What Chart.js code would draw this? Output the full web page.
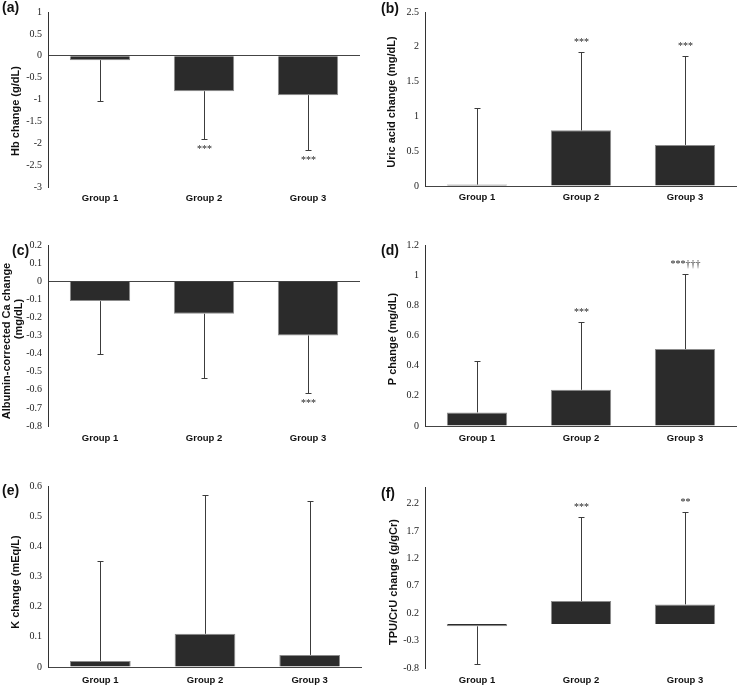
<!DOCTYPE html>
<html>
<head>
<meta charset="utf-8">
<script src="https://cdn.jsdelivr.net/npm/chart.js@4.4.0/dist/chart.umd.min.js"></script>
<style>
  body { margin: 0; background: #fff; }
  #wrap { position: relative; width: 738px; height: 686px; }
  #wrap canvas { position: absolute; }
</style>
</head>
<body>
<div id="wrap">
  <canvas id="pa"></canvas>
  <canvas id="pb"></canvas>
  <canvas id="pc"></canvas>
  <canvas id="pd"></canvas>
  <canvas id="pe"></canvas>
  <canvas id="pf"></canvas>
</div>
<script>
// categories
const groups = ['Group 1', 'Group 2', 'Group 3'];

// (a) Hb
const hbMean = [-0.1, -0.81, -0.9];
const hbSd = [0.93, 1.09, 1.25];
const hbMarks = ['', '***', '***'];
const hbTicks = [1, 0.5, 0, -0.5, -1, -1.5, -2, -2.5, -3];

// (b) uric acid
const uaMean = [0.02, 0.8, 0.59];
const uaSd = [1.1, 1.12, 1.28];
const uaMarks = ['', '***', '***'];
const uaTicks = [0, 0.5, 1, 1.5, 2, 2.5];

// (c) albumin-corrected Ca
const caMean = [-0.11, -0.18, -0.3];
const caSd = [0.29, 0.355, 0.32];
const caMarks = ['', '', '***'];
const caTicks = [0.2, 0.1, 0, -0.1, -0.2, -0.3, -0.4, -0.5, -0.6, -0.7, -0.8];

// (d) P
const pMean = [0.09, 0.24, 0.51];
const pSd = [0.34, 0.45, 0.5];
const pMarks = ['', '***', '***†††'];
const pTicks = [0, 0.2, 0.4, 0.6, 0.8, 1, 1.2];

// (e) K
const kMean = [0.02, 0.11, 0.04];
const kSd = [0.33, 0.46, 0.51];
const kMarks = ['', '', ''];
const kTicks = [0, 0.1, 0.2, 0.3, 0.4, 0.5, 0.6];

// (f) TPU/CrU
const tpuMean = [-0.04, 0.42, 0.36];
const tpuSd = [0.68, 1.53, 1.69];
const tpuMarks = ['', '***', '**'];
const tpuTicks = [-0.8, -0.3, 0.2, 0.7, 1.2, 1.7, 2.2];

const SERIF = '"Liberation Serif", "Times New Roman", serif';
const SANS = '"Liberation Sans", Arial, sans-serif';

function panel(id, box, area, mean, sd, marks, ticks, yMin, yMax, label, titles) {
  const cv = document.getElementById(id);
  cv.width = box.r - box.l;
  cv.height = box.b - box.t;
  cv.style.left = box.l + 'px';
  cv.style.top = box.t + 'px';

  // error bars, significance marks, panel letter, axis title
  const extras = {
    id: 'extras',
    afterDatasetsDraw(chart) {
      const ctx = chart.ctx;
      const y = chart.scales.y;
      chart.getDatasetMeta(0).data.forEach((bar, i) => {
        const end = mean[i] < 0 ? mean[i] - sd[i] : mean[i] + sd[i];
        const x = Math.round(bar.x) + 0.5;
        const y0 = y.getPixelForValue(mean[i]);
        const y1 = Math.round(y.getPixelForValue(end)) + 0.5;
        ctx.save();
        ctx.strokeStyle = '#3c3c3c';
        ctx.lineWidth = 1;
        ctx.beginPath();
        ctx.moveTo(x, y0);
        ctx.lineTo(x, y1);
        ctx.moveTo(x - 3, y1);
        ctx.lineTo(x + 3, y1);
        ctx.stroke();
        if (marks[i]) {
          ctx.fillStyle = '#222';
          ctx.font = '10px ' + SERIF;
          ctx.textAlign = 'center';
          ctx.textBaseline = 'middle';
          ctx.fillText(marks[i], x, end < 0 ? y1 + 10 : y1 - 10);
        }
        ctx.restore();
      });
    },
    afterDraw(chart) {
      const ctx = chart.ctx;
      ctx.save();
      ctx.fillStyle = '#111';
      ctx.textBaseline = 'middle';
      ctx.textAlign = 'left';
      ctx.font = 'bold 14px ' + SANS;
      ctx.fillText(label.text, label.x - box.l, label.y - box.t);
      ctx.font = 'bold 11px ' + SANS;
      ctx.textAlign = 'center';
      titles.forEach(t => {
        ctx.save();
        ctx.translate(t.x - box.l, t.y - box.t);
        ctx.rotate(-Math.PI / 2);
        ctx.fillText(t.text, 0, 0);
        ctx.restore();
      });
      ctx.restore();
    }
  };

  return new Chart(cv, {
    type: 'bar',
    data: {
      labels: groups,
      datasets: [{
        data: mean,
        backgroundColor: '#2b2b2b',
        borderColor: '#8c8c8c',
        borderWidth: 1,
        barPercentage: 0.58,
        categoryPercentage: 1
      }]
    },
    options: {
      responsive: false,
      animation: false,
      layout: {
        padding: { top: area.t - box.t, right: box.r - area.r, left: 0, bottom: 0 }
      },
      plugins: { legend: { display: false }, tooltip: { enabled: false } },
      scales: {
        x: {
          grid: { display: false, drawTicks: false },
          border: { display: false },
          ticks: {
            color: '#111',
            padding: area.lp,
            font: { family: SANS, size: 9.5, weight: 'bold' },
            maxRotation: 0
          },
          afterFit(s) { s.height = box.b - area.b; }
        },
        y: {
          min: yMin,
          max: yMax,
          afterBuildTicks(s) { s.ticks = ticks.map(v => ({ value: v })); },
          grid: {
            drawTicks: false,
            color: c => (c.tick && c.tick.value === 0 ? '#444' : 'rgba(0,0,0,0)')
          },
          border: { display: true, color: '#333', width: 1 },
          ticks: {
            color: '#222',
            padding: 6,
            font: { family: SERIF, size: 10 },
            callback: v => String(Math.round(v * 100) / 100)
          },
          afterFit(s) { s.width = area.l - box.l; }
        }
      }
    },
    plugins: [extras]
  });
}

panel('pa', { l: 0, t: 0, r: 369, b: 215 }, { l: 48, t: 4, r: 360, b: 187, lp: 6 },
  hbMean, hbSd, hbMarks, hbTicks, -3, 1,
  { text: '(a)', x: 2, y: 8 }, [{ text: 'Hb change (g/dL)', x: 16, y: 111 }]);

panel('pb', { l: 369, t: 0, r: 738, b: 215 }, { l: 425, t: 6, r: 737, b: 186, lp: 6 },
  uaMean, uaSd, uaMarks, uaTicks, 0, 2.5,
  { text: '(b)', x: 381, y: 9 }, [{ text: 'Uric acid change (mg/dL)', x: 392, y: 102 }]);

panel('pc', { l: 0, t: 222, r: 369, b: 452 }, { l: 48, t: 245, r: 360, b: 426, lp: 7 },
  caMean, caSd, caMarks, caTicks, -0.8, 0.2,
  { text: '(c)', x: 12, y: 251 },
  [{ text: 'Albumin-corrected Ca change', x: 7, y: 341 }, { text: '(mg/dL)', x: 19, y: 319 }]);

panel('pd', { l: 369, t: 222, r: 738, b: 452 }, { l: 425, t: 245, r: 737, b: 426, lp: 7 },
  pMean, pSd, pMarks, pTicks, 0, 1.2,
  { text: '(d)', x: 381, y: 251 }, [{ text: 'P change (mg/dL)', x: 393, y: 339 }]);

panel('pe', { l: 0, t: 460, r: 369, b: 686 }, { l: 48, t: 486, r: 362, b: 667, lp: 8 },
  kMean, kSd, kMarks, kTicks, 0, 0.6,
  { text: '(e)', x: 2, y: 491 }, [{ text: 'K change (mEq/L)', x: 16, y: 582 }]);

panel('pf', { l: 369, t: 460, r: 738, b: 686 }, { l: 425, t: 487, r: 737, b: 668, lp: 7 },
  tpuMean, tpuSd, tpuMarks, tpuTicks, -0.8, 2.5,
  { text: '(f)', x: 381, y: 494 }, [{ text: 'TPU/CrU change (g/gCr)', x: 394, y: 582 }]);
</script>
</body>
</html>
